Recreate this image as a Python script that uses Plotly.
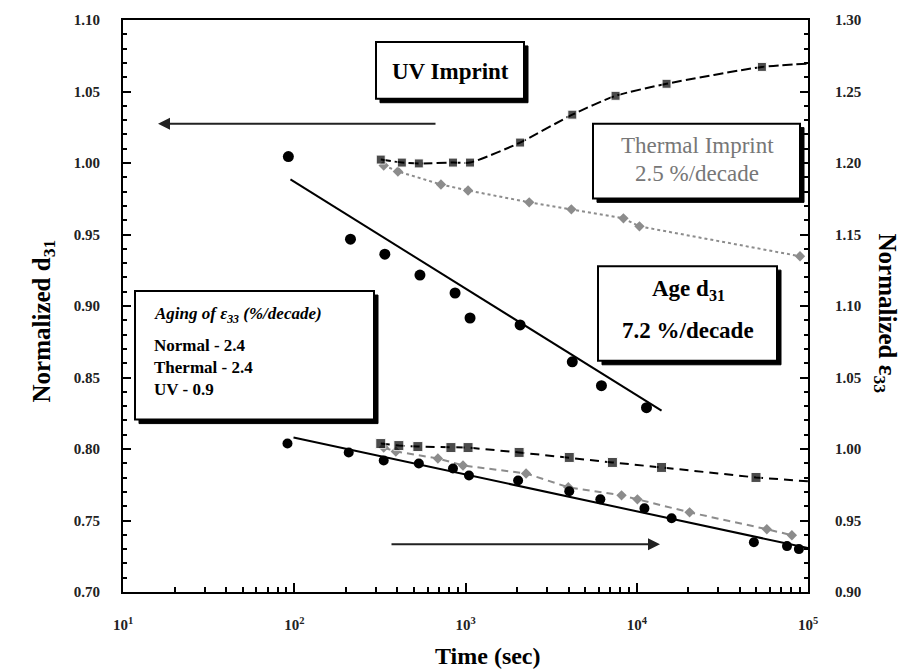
import plotly.graph_objects as go

# ---------------- data ----------------
# Upper group (left axis, normalized d31)
d31_t = [92.4, 213, 338, 542, 869, 1063, 2084, 4204, 6220, 11400]
d31_v = [1.0045, 0.9467, 0.9362, 0.9216, 0.9091, 0.8916, 0.8868, 0.8610, 0.8443, 0.8289]
d31_fit_t = [95, 13960]
d31_fit_v = [0.9885, 0.8268]

uv_d31_t = [320, 425, 534, 845, 1063, 2084, 4204, 7520, 14930, 53800, 100000]
uv_d31_v = [1.0024, 1.0003, 0.9997, 1.0003, 1.0003, 1.0143, 1.0338, 1.0470, 1.0554, 1.0672, 1.0695]

th_d31_t = [333, 403, 719, 1035, 2355, 4150, 8360, 10370, 89800]
th_d31_v = [0.9983, 0.9941, 0.9850, 0.9808, 0.9725, 0.9676, 0.9613, 0.9557, 0.9348]

# Lower group (right axis, normalized eps33)
eps_t = [91.3, 208, 333, 534, 845, 1048, 2029, 4036, 6130, 11090, 15980, 48300, 75400, 88500]
eps_v = [1.0038, 0.9976, 0.9920, 0.9899, 0.9864, 0.9815, 0.9780, 0.9704, 0.9648, 0.9585,
         0.9516, 0.9348, 0.9321, 0.9300]
eps_fit_t = [99, 100000]
eps_fit_v = [1.0080, 0.9307]

uv_eps_t = [320, 408, 527, 822, 1035, 2056, 4036, 7210, 13960, 49700, 100000]
uv_eps_v = [1.0038, 1.0024, 1.0017, 1.0010, 1.0010, 0.9976, 0.9941, 0.9906, 0.9871, 0.9801, 0.9774]

th_eps_t = [333, 392, 690, 967, 2258, 3983, 8150, 10090, 20350, 57500, 80500]
th_eps_v = [1.0010, 0.9983, 0.9934, 0.9885, 0.9829, 0.9732, 0.9676, 0.9648, 0.9557, 0.9439, 0.9397]

x_tickvals = [10, 100, 1000, 10000, 100000]
x_ticktext = ["10<sup>1</sup>", "10<sup>2</sup>", "10<sup>3</sup>", "10<sup>4</sup>", "10<sup>5</sup>"]
x_minor_ticks = [m * d for d in [10, 100, 1000, 10000] for m in range(2, 10)]
left_ticks = [0.70, 0.75, 0.80, 0.85, 0.90, 0.95, 1.00, 1.05, 1.10]
right_ticks = [0.90, 0.95, 1.00, 1.05, 1.10, 1.15, 1.20, 1.25, 1.30]

# ---------------- figure ----------------
W, H = 920, 670
L, R, T, B = 123, 808, 18, 592
FONT = "Liberation Serif"
GRAY = "#8c8c8c"

def px(x):
    return (x - L) / (R - L)

def py(y):
    return (B - y) / (B - T)

fig = go.Figure()

# upper group
fig.add_trace(go.Scatter(x=d31_fit_t, y=d31_fit_v, mode="lines",
                         line=dict(color="black", width=2), yaxis="y"))
fig.add_trace(go.Scatter(x=d31_t, y=d31_v, mode="markers",
                         marker=dict(color="black", size=11, symbol="circle"), yaxis="y"))
fig.add_trace(go.Scatter(x=th_d31_t, y=th_d31_v, mode="lines+markers",
                         line=dict(color=GRAY, width=2, dash="3px,3px"),
                         marker=dict(color=GRAY, size=8, symbol="diamond"), yaxis="y"))
fig.add_trace(go.Scatter(x=uv_d31_t, y=uv_d31_v, mode="lines+markers",
                         line=dict(color="black", width=2, dash="10px,4px", shape="spline", smoothing=0.6),
                         marker=dict(color="black", size=[9] * 10 + [0], symbol="square"), yaxis="y"))

# lower group
fig.add_trace(go.Scatter(x=th_eps_t, y=th_eps_v, mode="lines+markers",
                         line=dict(color=GRAY, width=2, dash="7px,5px"),
                         marker=dict(color=GRAY, size=8, symbol="diamond"), yaxis="y2"))
fig.add_trace(go.Scatter(x=uv_eps_t, y=uv_eps_v, mode="lines+markers",
                         line=dict(color="black", width=2, dash="9px,6px"),
                         marker=dict(color="black", size=[10] * 10 + [0], symbol="square"), yaxis="y2"))
fig.add_trace(go.Scatter(x=eps_fit_t, y=eps_fit_v, mode="lines",
                         line=dict(color="black", width=2), yaxis="y2"))
fig.add_trace(go.Scatter(x=eps_t, y=eps_v, mode="markers",
                         marker=dict(color="black", size=10, symbol="circle"), yaxis="y2"))

tickfont = dict(family=FONT, size=15, color="#222", weight="bold")

fig.update_layout(
    width=W, height=H,
    margin=dict(l=L, r=W - R, t=T, b=H - B),
    paper_bgcolor="white", plot_bgcolor="white",
    showlegend=False,
    font=dict(family=FONT, color="black"),
    xaxis=dict(type="log", range=[1, 5], tickvals=x_tickvals, ticktext=x_ticktext,
               showline=True, linecolor="black", linewidth=2, mirror=True,
               ticks="inside", ticklen=9, tickwidth=1.5, tickcolor="black",
               minor=dict(tickvals=x_minor_ticks, ticks="inside", ticklen=5,
                          tickcolor="black", showgrid=False),
               showgrid=False, zeroline=False, tickfont=tickfont, ticklabelstandoff=18),
    yaxis=dict(range=[0.70, 1.10], tickvals=left_ticks, tickformat=".2f",
               showline=True, linecolor="black", linewidth=2,
               ticks="inside", ticklen=8, tickwidth=1.5, tickcolor="black",
               minor=dict(ticks="inside", ticklen=4, dtick=0.01, tickcolor="black", showgrid=False),
               showgrid=False, zeroline=False, tickfont=tickfont, ticklabelstandoff=18),
    yaxis2=dict(range=[0.90, 1.30], tickvals=right_ticks, tickformat=".2f",
                overlaying="y", side="right",
                showline=True, linecolor="black", linewidth=2,
                ticks="inside", ticklen=8, tickwidth=1.5, tickcolor="black",
                minor=dict(ticks="inside", ticklen=4, dtick=0.01, tickcolor="black", showgrid=False),
                showgrid=False, zeroline=False, tickfont=tickfont, ticklabelstandoff=22),
)

# ---------------- boxes with shadow ----------------
def shadow_box(x0, y0, x1, y1, sh=4):
    fig.add_shape(type="rect", xref="paper", yref="paper",
                  x0=px(x0 + sh), x1=px(x1 + sh), y0=py(y1 + sh), y1=py(y0 + sh),
                  fillcolor="black", line=dict(color="black", width=1), layer="above")
    fig.add_shape(type="rect", xref="paper", yref="paper",
                  x0=px(x0), x1=px(x1), y0=py(y1), y1=py(y0),
                  fillcolor="white", line=dict(color="black", width=2), layer="above")

shadow_box(376, 40, 524, 97)
shadow_box(593, 122, 800, 197)
shadow_box(598, 265, 777, 360)
shadow_box(135, 290, 374, 419)

def text(xp, yp, s, size, color="black", bold=True, xanchor="center", italic=False):
    fig.add_annotation(xref="paper", yref="paper", x=px(xp), y=py(yp), text=s,
                       showarrow=False, xanchor=xanchor, yanchor="middle",
                       font=dict(family=FONT, size=size, color=color,
                                 style="italic" if italic else "normal",
                                 weight="bold" if bold else "normal"))

text(450, 70, "UV Imprint", 23)
text(697, 144, "Thermal Imprint", 23, color="#777", bold=False)
text(697, 172, "2.5 %/decade", 23, color="#777", bold=False)
text(688, 289, "Age d<sub>31</sub>", 23)
text(688, 330, "7.2 %/decade", 23)
text(152, 314, "Aging of ε<sub>33</sub> (%/decade)", 17, xanchor="left", italic=True)
text(152, 345, "Normal - 2.4", 17, xanchor="left")
text(152, 367, "Thermal - 2.4", 17, xanchor="left")
text(152, 389, "UV - 0.9", 17, xanchor="left")

# ---------------- arrows ----------------
fig.add_annotation(xref="paper", yref="paper", x=px(158), y=py(122), ax=437 - 158, ay=0,
                   showarrow=True, arrowhead=2, arrowsize=1.2, arrowwidth=2, arrowcolor="#222", text="")
fig.add_annotation(xref="paper", yref="paper", x=px(660), y=py(544), ax=390 - 660, ay=0,
                   showarrow=True, arrowhead=2, arrowsize=1.2, arrowwidth=2, arrowcolor="#222", text="")

# ---------------- axis titles ----------------
fig.add_annotation(xref="paper", yref="paper", x=px(488), y=py(670), text="Time (sec)",
                   showarrow=False, yanchor="bottom", borderpad=0,
                   font=dict(family=FONT, size=24, weight="bold"))
fig.add_annotation(xref="paper", yref="paper", x=px(26), y=py(320), text="Normalized d<sub>31</sub>",
                   showarrow=False, textangle=-90, font=dict(family=FONT, size=25, weight="bold"))
fig.add_annotation(xref="paper", yref="paper", x=px(903), y=py(312), text="Normalized ε<sub>33</sub>",
                   showarrow=False, textangle=90, font=dict(family=FONT, size=25, weight="bold"))

fig.write_html("out.html", config={"displayModeBar": False},
               post_script="document.body.style.margin='0';")
